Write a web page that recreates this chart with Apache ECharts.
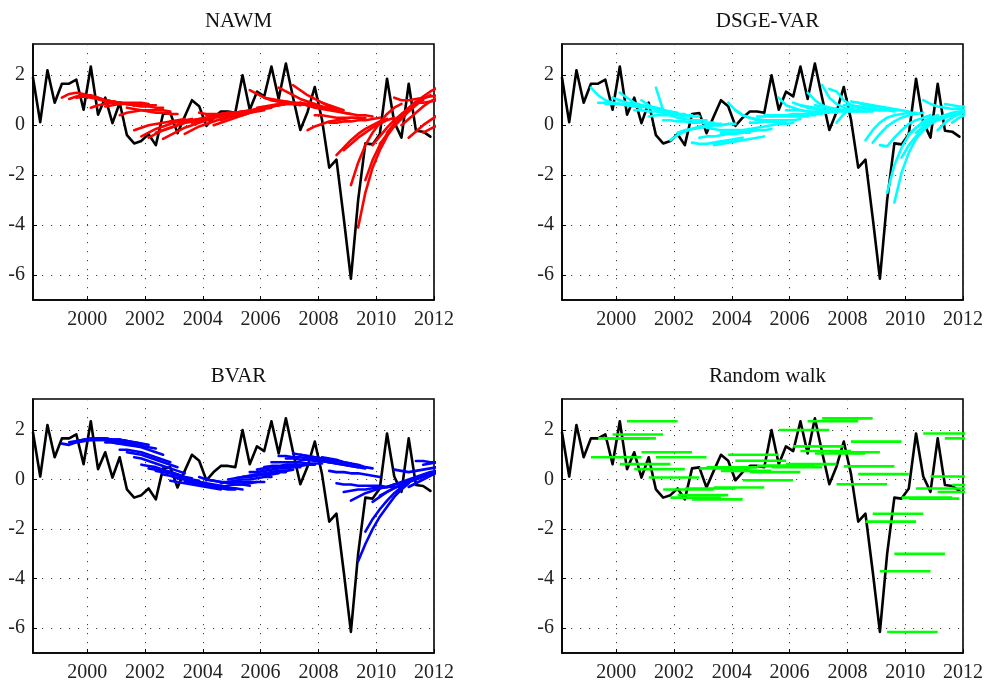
<!DOCTYPE html>
<html>
<head>
<meta charset="utf-8">
<script src="https://cdn.jsdelivr.net/npm/echarts@6/dist/echarts.min.js"></script>
<style>
  html, body { margin: 0; padding: 0; background: #fff; }
  #chart { width: 987px; height: 683px; }
</style>
</head>
<body>
<div id="chart"></div>
<script>
// Quarterly real GDP growth and recursive 8-quarter-ahead forecasts.
const quarters = [
  '1998Q1','1998Q2','1998Q3','1998Q4','1999Q1','1999Q2','1999Q3','1999Q4',
  '2000Q1','2000Q2','2000Q3','2000Q4','2001Q1','2001Q2','2001Q3','2001Q4',
  '2002Q1','2002Q2','2002Q3','2002Q4','2003Q1','2003Q2','2003Q3','2003Q4',
  '2004Q1','2004Q2','2004Q3','2004Q4','2005Q1','2005Q2','2005Q3','2005Q4',
  '2006Q1','2006Q2','2006Q3','2006Q4','2007Q1','2007Q2','2007Q3','2007Q4',
  '2008Q1','2008Q2','2008Q3','2008Q4','2009Q1','2009Q2','2009Q3','2009Q4',
  '2010Q1','2010Q2','2010Q3','2010Q4','2011Q1','2011Q2','2011Q3','2011Q4'
];

const actual = [
  1.9, 0.12, 2.2, 0.9,     1.66, 1.66, 1.82, 0.62,
  2.35, 0.42, 1.1, 0.08,   0.9, -0.4, -0.73, -0.63,
  -0.36, -0.8, 0.45, 0.49, -0.32, 0.35, 1.0, 0.76,
  -0.03, 0.3, 0.55, 0.55,  0.5, 2.0, 0.62, 1.34,
  1.15, 2.35, 1.05, 2.47,  1.1, -0.19, 0.53, 1.53,
  0.22, -1.7, -1.38, -3.7, -6.15, -3.0, -0.73, -0.77,
  -0.36, 1.86, 0.12, -0.5, 1.66, -0.22, -0.26, -0.46
];

// Last observed quarter of each forecast round; each path covers the next 8 quarters.
const forecastOrigins = [
  '1998Q4','1999Q1','1999Q2','1999Q3','1999Q4','2000Q1','2000Q2','2000Q3','2000Q4',
  '2001Q1','2001Q2','2001Q3','2001Q4','2002Q1','2002Q2','2002Q3','2002Q4',
  '2003Q1','2003Q2','2003Q3','2003Q4','2004Q1','2004Q2','2004Q3','2004Q4',
  '2005Q1','2005Q2','2005Q3','2005Q4','2006Q1','2006Q2','2006Q3','2006Q4',
  '2007Q1','2007Q2','2007Q3','2007Q4','2008Q1','2008Q2','2008Q3','2008Q4',
  '2009Q1','2009Q2','2009Q3','2009Q4','2010Q1','2010Q2','2010Q3','2010Q4',
  '2011Q1','2011Q2'
];

const nawmPaths = [
  [1.1, 1.25, 1.3, 1.25, 1.15, 1.05, 0.95, 0.9],
  [1.05, 1.15, 1.2, 1.15, 1.05, 1.0, 0.95, 0.9],
  [1.1, 1.15, 1.1, 1.05, 1.0, 0.95, 0.9, 0.85],
  [1.2, 1.2, 1.1, 1.0, 0.95, 0.9, 0.85, 0.8],
  [0.7, 0.8, 0.85, 0.9, 0.9, 0.85, 0.8, 0.8],
  [1.1, 1.0, 0.95, 0.9, 0.9, 0.9, 0.9, 0.85],
  [0.75, 0.8, 0.85, 0.85, 0.85, 0.85, 0.8, 0.8],
  [0.9, 0.9, 0.85, 0.8, 0.75, 0.75, 0.7, 0.7],
  [0.4, 0.5, 0.55, 0.6, 0.6, 0.6, 0.6, 0.55],
  [0.7, 0.65, 0.6, 0.55, 0.5, 0.5, 0.45, 0.45],
  [-0.2, -0.1, 0.0, 0.05, 0.1, 0.15, 0.2, 0.25],
  [-0.45, -0.3, -0.15, -0.05, 0.05, 0.15, 0.2, 0.25],
  [-0.5, -0.35, -0.2, -0.1, 0.0, 0.1, 0.15, 0.2],
  [-0.3, -0.2, -0.1, 0.0, 0.1, 0.15, 0.2, 0.25],
  [-0.55, -0.4, -0.25, -0.1, 0.0, 0.1, 0.2, 0.25],
  [0.15, 0.15, 0.2, 0.2, 0.25, 0.3, 0.3, 0.35],
  [0.1, 0.15, 0.2, 0.25, 0.3, 0.35, 0.4, 0.4],
  [-0.35, -0.2, -0.05, 0.05, 0.15, 0.25, 0.35, 0.4],
  [0.1, 0.15, 0.2, 0.3, 0.35, 0.45, 0.5, 0.55],
  [0.5, 0.45, 0.45, 0.45, 0.5, 0.5, 0.55, 0.55],
  [0.4, 0.4, 0.45, 0.5, 0.5, 0.55, 0.6, 0.6],
  [0.0, 0.1, 0.2, 0.3, 0.4, 0.5, 0.55, 0.6],
  [0.2, 0.3, 0.35, 0.45, 0.5, 0.6, 0.65, 0.7],
  [0.35, 0.45, 0.5, 0.6, 0.65, 0.7, 0.75, 0.8],
  [0.4, 0.5, 0.55, 0.65, 0.7, 0.75, 0.8, 0.85],
  [0.4, 0.5, 0.6, 0.7, 0.75, 0.8, 0.85, 0.85],
  [1.4, 1.25, 1.1, 1.0, 0.95, 0.9, 0.85, 0.8],
  [0.7, 0.75, 0.8, 0.85, 0.85, 0.85, 0.85, 0.85],
  [1.1, 1.05, 1.0, 0.95, 0.9, 0.9, 0.85, 0.85],
  [1.0, 0.95, 0.95, 0.9, 0.85, 0.8, 0.8, 0.75],
  [1.5, 1.35, 1.2, 1.05, 0.95, 0.85, 0.75, 0.7],
  [0.9, 0.9, 0.85, 0.8, 0.75, 0.7, 0.65, 0.6],
  [1.6, 1.4, 1.2, 1.05, 0.9, 0.8, 0.7, 0.6],
  [0.9, 0.8, 0.7, 0.65, 0.6, 0.55, 0.5, 0.45],
  [-0.2, -0.05, 0.05, 0.15, 0.2, 0.25, 0.3, 0.3],
  [0.4, 0.4, 0.35, 0.3, 0.3, 0.3, 0.3, 0.3],
  [0.9, 0.75, 0.6, 0.5, 0.45, 0.4, 0.4, 0.35],
  [0.1, 0.1, 0.15, 0.15, 0.2, 0.2, 0.25, 0.3],
  [-1.2, -0.9, -0.6, -0.35, -0.15, 0.0, 0.15, 0.25],
  [-1.0, -0.75, -0.5, -0.3, -0.1, 0.05, 0.2, 0.3],
  [-2.4, -1.5, -0.8, -0.3, 0.1, 0.45, 0.7, 0.85],
  [-4.1, -2.7, -1.7, -1.0, -0.45, 0.0, 0.35, 0.65],
  [-2.2, -1.4, -0.8, -0.35, 0.05, 0.4, 0.7, 0.95],
  [-0.8, -0.45, -0.1, 0.2, 0.45, 0.65, 0.85, 1.0],
  [-0.75, -0.4, -0.05, 0.25, 0.55, 0.8, 1.05, 1.2],
  [-0.3, 0.05, 0.35, 0.65, 0.9, 1.15, 1.35, 1.5],
  [1.1, 1.0, 1.0, 1.05, 1.1, 1.15, 1.2, 1.25],
  [0.0, 0.25, 0.5, 0.75, 0.95, 1.1, 1.2, 1.3],
  [-0.5, -0.25, 0.0, 0.2, 0.4, 0.55, 0.7, 0.8],
  [0.9, 0.9, 0.95, 1.0, 1.05, 1.1, 1.15, 1.2],
  [-0.3, -0.15, 0.0, 0.15, 0.3, 0.4, 0.5, 0.6]
];

const dsgeVarPaths = [
  [1.5, 1.2, 1.0, 0.9, 0.85, 0.8, 0.75, 0.7],
  [0.9, 0.9, 0.9, 0.85, 0.85, 0.8, 0.8, 0.75],
  [0.85, 0.85, 0.85, 0.8, 0.8, 0.75, 0.75, 0.7],
  [1.1, 1.0, 0.9, 0.85, 0.8, 0.75, 0.7, 0.65],
  [1.3, 1.1, 0.9, 0.8, 0.7, 0.65, 0.6, 0.55],
  [0.9, 0.8, 0.75, 0.7, 0.65, 0.6, 0.55, 0.5],
  [0.6, 0.6, 0.55, 0.55, 0.5, 0.5, 0.45, 0.45],
  [1.0, 0.8, 0.65, 0.55, 0.5, 0.45, 0.4, 0.4],
  [0.35, 0.4, 0.4, 0.4, 0.4, 0.35, 0.35, 0.35],
  [1.5, 0.6, 0.4, 0.3, 0.25, 0.2, 0.2, 0.2],
  [0.2, 0.2, 0.15, 0.15, 0.1, 0.1, 0.1, 0.1],
  [-0.6, -0.4, -0.25, -0.15, -0.05, 0.0, 0.05, 0.05],
  [-0.3, -0.2, -0.15, -0.1, -0.05, 0.0, 0.0, 0.05],
  [-0.2, -0.15, -0.1, -0.05, 0.0, 0.0, 0.05, 0.05],
  [-0.7, -0.75, -0.75, -0.7, -0.65, -0.6, -0.55, -0.5],
  [-0.5, -0.45, -0.45, -0.4, -0.35, -0.35, -0.3, -0.3],
  [-0.1, -0.15, -0.2, -0.2, -0.2, -0.2, -0.2, -0.2],
  [-0.8, -0.75, -0.7, -0.65, -0.6, -0.55, -0.5, -0.45],
  [-0.3, -0.3, -0.3, -0.25, -0.25, -0.2, -0.2, -0.15],
  [0.9, 0.6, 0.4, 0.3, 0.25, 0.2, 0.2, 0.2],
  [0.6, 0.4, 0.3, 0.2, 0.15, 0.15, 0.1, 0.1],
  [-0.2, -0.15, -0.1, -0.05, 0.0, 0.05, 0.05, 0.1],
  [0.1, 0.1, 0.15, 0.15, 0.2, 0.2, 0.2, 0.25],
  [0.35, 0.35, 0.35, 0.35, 0.35, 0.35, 0.35, 0.35],
  [0.4, 0.4, 0.4, 0.4, 0.4, 0.4, 0.4, 0.4],
  [0.35, 0.4, 0.4, 0.45, 0.45, 0.45, 0.45, 0.45],
  [1.1, 0.8, 0.7, 0.6, 0.55, 0.5, 0.5, 0.5],
  [0.6, 0.6, 0.6, 0.55, 0.55, 0.55, 0.55, 0.5],
  [0.9, 0.8, 0.7, 0.65, 0.6, 0.6, 0.55, 0.55],
  [0.8, 0.75, 0.7, 0.65, 0.6, 0.6, 0.55, 0.55],
  [1.3, 1.0, 0.8, 0.7, 0.65, 0.6, 0.55, 0.55],
  [0.8, 0.75, 0.7, 0.65, 0.6, 0.6, 0.55, 0.55],
  [1.6, 1.1, 0.85, 0.7, 0.65, 0.6, 0.55, 0.55],
  [1.45, 1.35, 1.0, 0.8, 0.7, 0.65, 0.6, 0.6],
  [0.1, 0.45, 0.7, 0.75, 0.7, 0.65, 0.6, 0.6],
  [0.8, 0.8, 0.75, 0.7, 0.65, 0.6, 0.6, 0.55],
  [0.95, 0.9, 0.8, 0.75, 0.7, 0.65, 0.6, 0.6],
  [0.9, 0.85, 0.8, 0.75, 0.7, 0.65, 0.6, 0.55],
  [-0.6, -0.2, 0.1, 0.3, 0.4, 0.45, 0.5, 0.5],
  [-0.7, -0.35, -0.05, 0.15, 0.3, 0.4, 0.45, 0.5],
  [-0.8, -0.85, -0.5, -0.2, 0.05, 0.2, 0.3, 0.4],
  [-2.7, -1.6, -0.9, -0.4, -0.1, 0.15, 0.3, 0.4],
  [-3.1, -1.9, -1.1, -0.55, -0.2, 0.05, 0.25, 0.35],
  [-1.3, -0.8, -0.45, -0.15, 0.05, 0.2, 0.3, 0.4],
  [-0.35, -0.1, 0.05, 0.2, 0.3, 0.35, 0.4, 0.45],
  [-0.3, -0.05, 0.15, 0.3, 0.4, 0.45, 0.5, 0.55],
  [1.0, 0.85, 0.75, 0.7, 0.65, 0.65, 0.6, 0.6],
  [0.1, 0.25, 0.4, 0.5, 0.55, 0.6, 0.65, 0.65],
  [-0.2, 0.1, 0.3, 0.45, 0.55, 0.6, 0.65, 0.7],
  [0.85, 0.8, 0.75, 0.75, 0.7, 0.7, 0.7, 0.7],
  [0.1, 0.3, 0.45, 0.55, 0.6, 0.65, 0.7, 0.7]
];

const bvarPaths = [
  [1.45, 1.4, 1.5, 1.55, 1.6, 1.6, 1.6, 1.6],
  [1.5, 1.55, 1.6, 1.6, 1.65, 1.65, 1.6, 1.6],
  [1.55, 1.6, 1.65, 1.65, 1.65, 1.6, 1.6, 1.55],
  [1.6, 1.65, 1.65, 1.65, 1.6, 1.6, 1.55, 1.5],
  [1.6, 1.6, 1.6, 1.55, 1.55, 1.5, 1.5, 1.45],
  [1.65, 1.65, 1.6, 1.6, 1.55, 1.5, 1.45, 1.4],
  [1.5, 1.5, 1.45, 1.45, 1.4, 1.35, 1.3, 1.25],
  [1.5, 1.45, 1.4, 1.35, 1.3, 1.2, 1.1, 1.0],
  [1.2, 1.2, 1.15, 1.1, 1.0, 0.9, 0.8, 0.7],
  [1.1, 1.05, 1.0, 0.9, 0.8, 0.7, 0.6, 0.5],
  [0.9, 0.85, 0.75, 0.65, 0.55, 0.45, 0.35, 0.25],
  [0.6, 0.55, 0.5, 0.4, 0.3, 0.2, 0.1, 0.05],
  [0.45, 0.4, 0.35, 0.3, 0.2, 0.1, 0.0, -0.05],
  [0.35, 0.3, 0.25, 0.15, 0.05, -0.05, -0.1, -0.15],
  [0.2, 0.15, 0.05, 0.0, -0.1, -0.15, -0.2, -0.25],
  [-0.05, -0.1, -0.15, -0.2, -0.25, -0.3, -0.35, -0.4],
  [0.05, 0.0, -0.05, -0.1, -0.15, -0.2, -0.25, -0.3],
  [-0.1, -0.15, -0.2, -0.25, -0.3, -0.35, -0.4, -0.4],
  [-0.1, -0.15, -0.2, -0.25, -0.3, -0.35, -0.35, -0.4],
  [0.1, 0.0, -0.05, -0.1, -0.15, -0.2, -0.2, -0.25],
  [0.0, -0.05, -0.1, -0.1, -0.1, -0.1, -0.1, -0.1],
  [-0.3, -0.3, -0.25, -0.2, -0.2, -0.15, -0.1, -0.1],
  [-0.15, -0.1, -0.05, 0.0, 0.0, 0.05, 0.1, 0.1],
  [0.0, 0.05, 0.1, 0.1, 0.15, 0.2, 0.2, 0.25],
  [0.05, 0.1, 0.15, 0.2, 0.2, 0.25, 0.3, 0.3],
  [0.1, 0.15, 0.2, 0.25, 0.3, 0.35, 0.35, 0.4],
  [0.3, 0.3, 0.35, 0.4, 0.45, 0.45, 0.5, 0.5],
  [0.4, 0.45, 0.5, 0.5, 0.55, 0.55, 0.55, 0.6],
  [0.5, 0.55, 0.55, 0.6, 0.6, 0.6, 0.6, 0.6],
  [0.7, 0.7, 0.7, 0.7, 0.7, 0.65, 0.65, 0.65],
  [0.95, 0.95, 0.9, 0.9, 0.85, 0.8, 0.8, 0.75],
  [0.85, 0.85, 0.8, 0.8, 0.75, 0.75, 0.7, 0.7],
  [1.05, 1.0, 0.95, 0.9, 0.85, 0.8, 0.75, 0.7],
  [1.0, 0.95, 0.9, 0.85, 0.8, 0.75, 0.7, 0.65],
  [0.85, 0.8, 0.75, 0.7, 0.65, 0.6, 0.55, 0.5],
  [0.8, 0.75, 0.7, 0.65, 0.6, 0.55, 0.5, 0.45],
  [0.9, 0.85, 0.8, 0.7, 0.65, 0.6, 0.5, 0.45],
  [0.35, 0.3, 0.3, 0.25, 0.25, 0.2, 0.15, 0.1],
  [-0.15, -0.2, -0.2, -0.25, -0.25, -0.25, -0.25, -0.3],
  [-0.5, -0.45, -0.4, -0.4, -0.35, -0.35, -0.3, -0.3],
  [-0.85, -0.7, -0.55, -0.45, -0.35, -0.3, -0.2, -0.15],
  [-3.3, -2.6, -2.0, -1.5, -1.1, -0.7, -0.4, -0.15],
  [-2.1, -1.6, -1.2, -0.85, -0.55, -0.3, -0.1, 0.05],
  [-0.9, -0.7, -0.5, -0.35, -0.2, -0.05, 0.05, 0.15],
  [-0.65, -0.5, -0.35, -0.2, -0.1, 0.0, 0.1, 0.2],
  [-0.3, -0.2, -0.1, 0.0, 0.1, 0.2, 0.3, 0.35],
  [0.4, 0.35, 0.3, 0.35, 0.4, 0.45, 0.5, 0.55],
  [-0.2, -0.1, 0.05, 0.15, 0.25, 0.35, 0.45, 0.5],
  [-0.3, -0.15, 0.0, 0.15, 0.3, 0.4, 0.5, 0.55],
  [0.75, 0.75, 0.7, 0.7, 0.7, 0.7, 0.7, 0.7],
  [0.6, 0.65, 0.7, 0.7, 0.7, 0.7, 0.7, 0.7]
];

// Random walk: every forecast holds the last observed growth rate flat.
const randomWalkLevels = [
  0.9, 1.66, 1.66, 1.82, 0.62, 2.35, 0.42, 1.1, 0.08, 0.9, -0.4, -0.73, -0.63,
  -0.36, -0.8, 0.45, 0.49, -0.32, 0.35, 1.0, 0.76, -0.03, 0.3, 0.55, 0.55,
  0.5, 2.0, 0.62, 1.34, 1.15, 2.35, 1.05, 2.47, 1.1, -0.19, 0.53, 1.53,
  0.22, -1.7, -1.38, -3.7, -6.15, -3.0, -0.73, -0.77, -0.36, 1.86, 0.12,
  -0.5, 1.66, -0.22
];

const panelTitles = ['NAWM', 'DSGE-VAR', 'BVAR', 'Random walk'];
const panelColors = ['#ff0000', '#00ffff', '#0000ff', '#00ff00'];
const horizon = 8;

// Position of a quarter on the time axis (mid-quarter, in years).
function quarterPos(label) {
  const year = parseInt(label.slice(0, 4), 10);
  const q = parseInt(label.slice(5), 10);
  return year + (q - 0.5) / 4;
}

const FONT = 'Liberation Serif';
const gridBoxes = [
  { left: 33, top: 44 },
  { left: 562, top: 44 },
  { left: 33, top: 399 },
  { left: 562, top: 399 }
];
const gridW = 401, gridH = 256;

const grids = gridBoxes.map(b => ({
  left: b.left, top: b.top, width: gridW, height: gridH,
  show: true, borderColor: '#000', borderWidth: 1.6, backgroundColor: '#fff'
}));

const dotted = { color: '#444', width: 1, type: [1.2, 7.8] };

const evenLabel = v => (Math.abs(v - Math.round(v)) < 1e-6 && Math.round(v) % 2 === 0) ? String(Math.round(v)) : '';

const xAxes = gridBoxes.map((b, i) => ({
  type: 'value', gridIndex: i,
  min: quarterPos(quarters[0]), max: 2012,
  splitNumber: 7, minInterval: 2, maxInterval: 2,
  axisLine: { show: true, onZero: false, lineStyle: { color: '#000', width: 1.6 } },
  axisTick: { show: true, inside: true, length: 4, lineStyle: { color: '#000' } },
  axisLabel: {
    color: '#222', fontFamily: FONT, fontSize: 20, margin: 10,
    showMinLabel: false, formatter: evenLabel
  },
  splitLine: { show: true, lineStyle: dotted }
}));

const yAxes = gridBoxes.map((b, i) => ({
  type: 'value', gridIndex: i,
  min: -7, max: 3.25,
  splitNumber: 5, minInterval: 2, maxInterval: 2,
  axisLine: { show: true, onZero: false, lineStyle: { color: '#000', width: 1.6 } },
  axisTick: { show: true, inside: true, length: 4, lineStyle: { color: '#000' } },
  axisLabel: {
    color: '#222', fontFamily: FONT, fontSize: 20, margin: 8,
    showMinLabel: false, showMaxLabel: false, formatter: evenLabel
  },
  splitLine: { show: true, lineStyle: dotted }
}));

const actualData = quarters.map((q, k) => [quarterPos(q), actual[k]]);

function pathData(origin, values) {
  const start = quarterPos(origin);
  return values.map((v, h) => [start + 0.25 * (h + 1), v]);
}

const series = [];
function addActual(panel) {
  series.push({
    type: 'line', xAxisIndex: panel, yAxisIndex: panel,
    data: actualData, symbol: 'none', silent: true, z: 3,
    lineStyle: { color: '#000', width: 2.6, join: 'round', cap: 'round' }
  });
}

const modelPaths = [nawmPaths, dsgeVarPaths, bvarPaths];
modelPaths.forEach((paths, panel) => {
  addActual(panel);
  paths.forEach((vals, i) => {
    series.push({
      type: 'line', xAxisIndex: panel, yAxisIndex: panel,
      data: pathData(forecastOrigins[i], vals),
      symbol: 'none', silent: true, z: 4, clip: true,
      lineStyle: { color: panelColors[panel], width: 2.6, cap: 'round', join: 'round' }
    });
  });
});

// Random walk panel: flat segments from the first to the eighth forecast quarter.
addActual(3);
randomWalkLevels.forEach((lvl, i) => {
  const start = quarterPos(forecastOrigins[i]);
  series.push({
    type: 'line', xAxisIndex: 3, yAxisIndex: 3,
    data: [[start + 0.25, lvl], [start + 0.25 * horizon, lvl]],
    symbol: 'none', silent: true, z: 4, clip: true,
    lineStyle: { color: panelColors[3], width: 2.6 }
  });
});

const titles = panelTitles.map((t, i) => ({
  text: t,
  left: gridBoxes[i].left + gridW / 2,
  top: gridBoxes[i].top - 38,
  textAlign: 'center',
  textStyle: { fontFamily: FONT, fontSize: 21, fontWeight: 'normal', color: '#111' }
}));

const chart = echarts.init(document.getElementById('chart'), null, { renderer: 'canvas' });
chart.setOption({
  animation: false,
  backgroundColor: '#fff',
  title: titles,
  grid: grids,
  xAxis: xAxes,
  yAxis: yAxes,
  series: series
});
</script>
</body>
</html>
